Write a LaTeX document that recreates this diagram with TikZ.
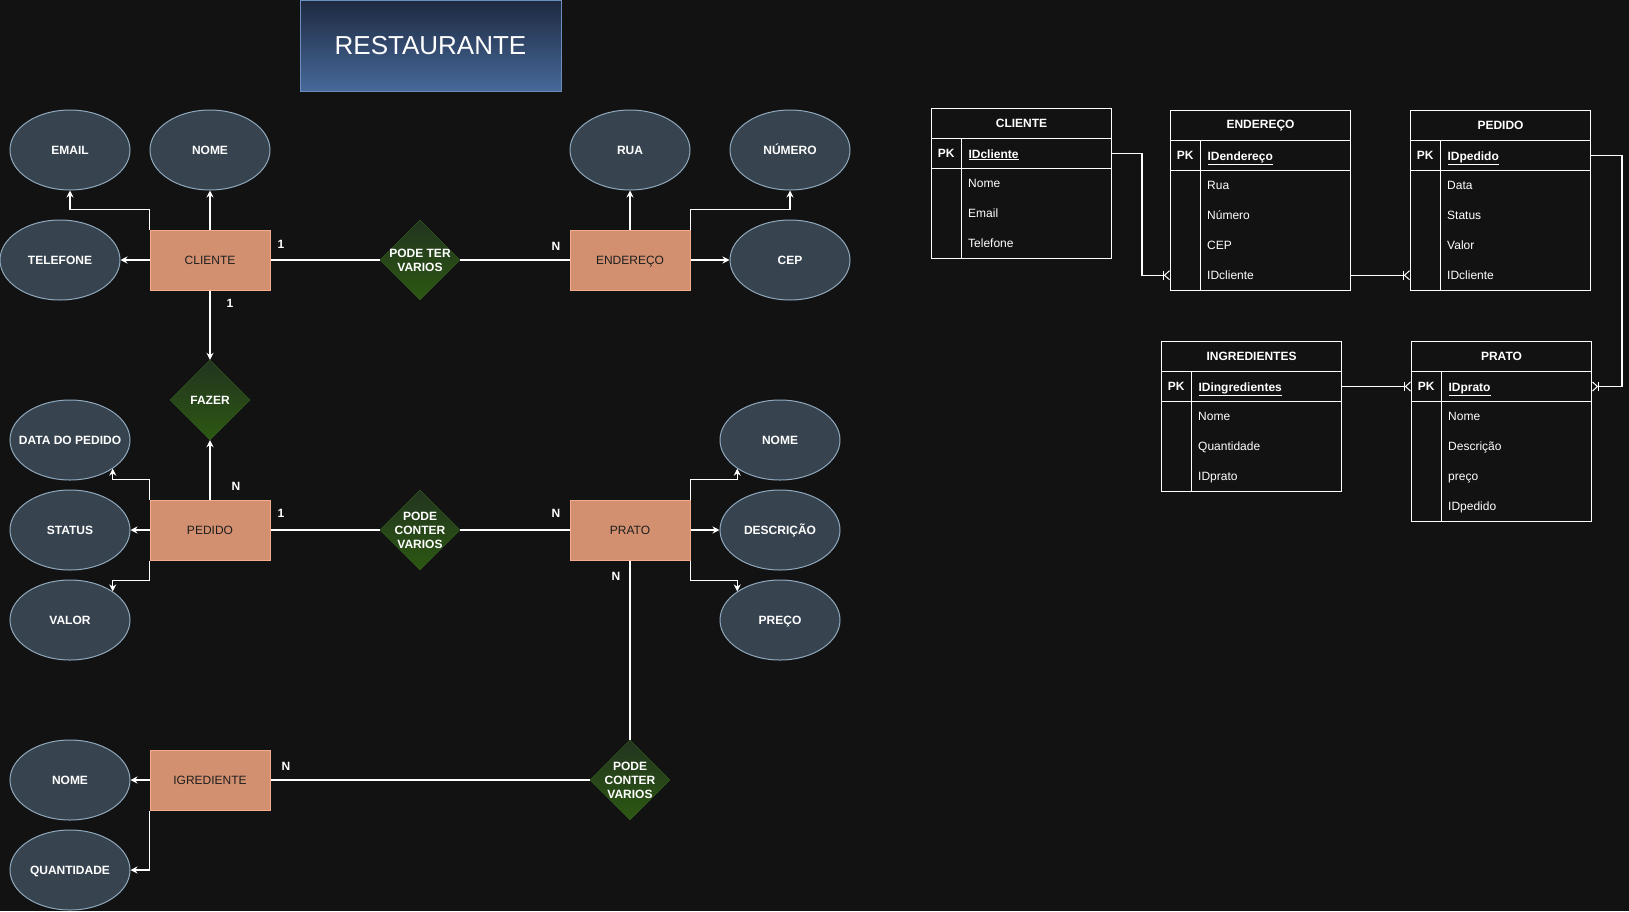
\documentclass[tikz,border=0pt]{standalone}
\usepackage{fontspec}
\setmainfont{Liberation Sans}
\usetikzlibrary{shapes.geometric,arrows.meta}
\definecolor{fundo}{RGB}{18,18,18}
\definecolor{atrfundo}{RGB}{55,68,79}
\definecolor{atrborda}{RGB}{143,168,189}
\definecolor{entfundo}{RGB}{211,144,112}
\definecolor{entborda}{RGB}{245,172,138}
\definecolor{enttexto}{RGB}{30,30,30}
\definecolor{reltopo}{RGB}{34,52,31}
\definecolor{relbase}{RGB}{44,88,18}
\definecolor{relborda}{RGB}{58,98,34}
\definecolor{tittopo}{RGB}{30,42,64}
\definecolor{titbase}{RGB}{71,105,154}
\definecolor{titborda}{RGB}{108,142,191}
\begin{document}
\begin{tikzpicture}[x=1pt,y=-1pt,
    font=\fontsize{12}{14}\selectfont,
    atributo/.style={ellipse,draw=atrborda,fill=atrfundo,line width=1pt,
      minimum width=120pt,minimum height=80pt,inner sep=0pt,
      label={[text=white,text height=10pt,text depth=1pt,
        font=\fontsize{12}{14}\selectfont\bfseries]center:#1}},
    entidade/.style={rectangle,draw=entborda,fill=entfundo,line width=1pt,
      minimum width=120pt,minimum height=60pt,text height=10pt,text depth=1pt,text=enttexto},
    relacao/.style={diamond,draw=relborda,top color=reltopo,bottom color=relbase,
      minimum width=80pt,minimum height=80pt,inner sep=0pt,
      label={[text=white,align=center,font=\fontsize{12}{14}\selectfont\bfseries]center:#1}},
    card/.style={text=white,font=\fontsize{12}{14}\selectfont\bfseries},
    titulo/.style={rectangle,draw=titborda,top color=tittopo,bottom color=titbase,
      minimum width=261pt,minimum height=91pt,text=white,font=\fontsize{26}{30}\selectfont},
    liga/.style={white,line width=1.2pt},
    seta/.style={liga,-{Stealth[length=7pt,width=7pt]}},
    crow/.style={liga,-{Bar[width=9pt,line width=1pt]Straight Barb[reversed,length=5pt,width=9pt,line width=1pt]}},
    tlinha/.style={white,line width=1pt},
    thead/.style={draw=white,line width=1pt,anchor=north west,minimum width=180pt,
      minimum height=30pt,text=white,font=\fontsize{12}{14}\selectfont\bfseries},
    trow/.style={anchor=north west,minimum width=180pt,minimum height=30pt,text width=106pt,
      inner xsep=37pt,inner ysep=0pt,align=left,text height=10pt,text depth=1pt,text=white},
    chave/.style={trow,draw=white,line width=1pt,font=\fontsize{12}{14}\selectfont\bfseries},
    pk/.style={anchor=west,minimum width=30pt,minimum height=30pt,inner sep=0pt,
      text=white,font=\fontsize{12}{14}\selectfont\bfseries}]
  \useasboundingbox (0,0) rectangle (1629,911);
  \fill[fundo] (0,0) rectangle (1629,911);
  \node[titulo] (titulo) at (430.5,45.5) {RESTAURANTE};

  % modelo conceitual
  \draw
    (210,260) node[entidade] (cliente){CLIENTE}
    (630,260) node[entidade] (endereco){ENDEREÇO}
    (210,530) node[entidade] (pedido){PEDIDO}
    (630,530) node[entidade] (prato){PRATO}
    (210,780) node[entidade] (igrediente){IGREDIENTE}
    (420,260) node[relacao={PODE TER\\VARIOS}] (podeter){}
    (210,400) node[relacao=FAZER] (fazer){}
    (420,530) node[relacao={PODE\\CONTER\\VARIOS}] (contem){}
    (630,780) node[relacao={PODE\\CONTER\\VARIOS}] (contemi){}
    (70,150) node[atributo=EMAIL] (email){}
    (210,150) node[atributo=NOME] (nomec){}
    (60,260) node[atributo=TELEFONE] (telefone){}
    (630,150) node[atributo=RUA] (rua){}
    (790,150) node[atributo=NÚMERO] (numero){}
    (790,260) node[atributo=CEP] (cep){}
    (70,440) node[atributo=DATA DO PEDIDO] (data){}
    (70,530) node[atributo=STATUS] (status){}
    (70,620) node[atributo=VALOR] (valor){}
    (780,440) node[atributo=NOME] (nomep){}
    (780,530) node[atributo=DESCRIÇÃO] (descricao){}
    (780,620) node[atributo=PREÇO] (preco){}
    (70,780) node[atributo=NOME] (nomei){}
    (70,870) node[atributo=QUANTIDADE] (quantidade){};
  \draw
    (281,244) node[card] (c1){1}
    (230,303) node[card] (c2){1}
    (556,246) node[card] (c3){N}
    (236,486) node[card] (c4){N}
    (281,513) node[card] (c5){1}
    (556,513) node[card] (c6){N}
    (616,576) node[card] (c7){N}
    (286,766) node[card] (c8){N};
  \begin{scope}[liga]
    \draw (cliente) to (podeter);
    \draw (podeter) to (endereco);
    \draw (pedido) to (contem);
    \draw (contem) to (prato);
    \draw (prato) to (contemi);
    \draw (contemi) to (igrediente);
  \end{scope}
  \begin{scope}[seta]
    \draw (cliente) to (nomec);
    \draw (cliente) to (telefone);
    \draw (cliente.north west) -- ++(0,-20) -| (email.south);
    \draw (cliente) to (fazer);
    \draw (pedido) to (fazer);
    \draw (endereco) to (rua);
    \draw (endereco) to (cep);
    \draw (endereco.north east) -- ++(0,-20) -| (numero.south);
    \draw (pedido) to (status);
    \draw (pedido.north west) -- ++(0,-20) -| (data.south east);
    \draw (pedido.south west) -- ++(0,20) -| (valor.north east);
    \draw (prato) to (descricao);
    \draw (prato.north east) -- ++(0,-20) -| (nomep.south west);
    \draw (prato.south east) -- ++(0,20) -| (preco.north west);
    \draw (igrediente) to (nomei);
    \draw (igrediente.south west) |- (quantidade.east);
  \end{scope}

  % modelo logico
  % CLIENTE
  \node[thead] (tcli) at (931,108) {CLIENTE};
  \node[chave] (cliPK) at (931,138) {\underline{IDcliente}};
  \node[pk] (cliK) at (cliPK.west) {PK};
  \foreach \campo [count=\i] in {Nome,Email,Telefone}
    \node[trow] (cli\i) at (931,138+30*\i) {\campo};
  \draw[tlinha] (tcli.north west) rectangle ++(180,150)
    ([xshift=30pt]cliPK.north west) -- ++(0,120);
  % ENDERECO
  \node[thead] (tend) at (1170,110) {ENDEREÇO};
  \node[chave] (endPK) at (1170,140) {\underline{IDendereço}};
  \node[pk] (endK) at (endPK.west) {PK};
  \foreach \campo [count=\i] in {Rua,Número,CEP,IDcliente}
    \node[trow] (end\i) at (1170,140+30*\i) {\campo};
  \draw[tlinha] (tend.north west) rectangle ++(180,180)
    ([xshift=30pt]endPK.north west) -- ++(0,150);
  % PEDIDO
  \node[thead] (tped) at (1410,110) {PEDIDO};
  \node[chave] (pedPK) at (1410,140) {\underline{IDpedido}};
  \node[pk] (pedK) at (pedPK.west) {PK};
  \foreach \campo [count=\i] in {Data,Status,Valor,IDcliente}
    \node[trow] (ped\i) at (1410,140+30*\i) {\campo};
  \draw[tlinha] (tped.north west) rectangle ++(180,180)
    ([xshift=30pt]pedPK.north west) -- ++(0,150);
  % INGREDIENTES
  \node[thead] (ting) at (1161,341) {INGREDIENTES};
  \node[chave] (ingPK) at (1161,371) {\underline{IDingredientes}};
  \node[pk] (ingK) at (ingPK.west) {PK};
  \foreach \campo [count=\i] in {Nome,Quantidade,IDprato}
    \node[trow] (ing\i) at (1161,371+30*\i) {\campo};
  \draw[tlinha] (ting.north west) rectangle ++(180,150)
    ([xshift=30pt]ingPK.north west) -- ++(0,120);
  % PRATO
  \node[thead] (tpra) at (1411,341) {PRATO};
  \node[chave] (praPK) at (1411,371) {\underline{IDprato}};
  \node[pk] (praK) at (praPK.west) {PK};
  \foreach \campo [count=\i] in {Nome,Descrição,preço,IDpedido}
    \node[trow] (pra\i) at (1411,371+30*\i) {\campo};
  \draw[tlinha] (tpra.north west) rectangle ++(180,180)
    ([xshift=30pt]praPK.north west) -- ++(0,150);

  \begin{scope}[crow]
    \draw (cliPK.east) -- ++(30,0) |- (end4.west);
    \draw (end4.east) -- (ped4.west);
    \draw (ingPK.east) -- (praPK.west);
    \draw (pedPK.east) -- ++(31,0) |- (praPK.east);
  \end{scope}
\end{tikzpicture}
\end{document}
